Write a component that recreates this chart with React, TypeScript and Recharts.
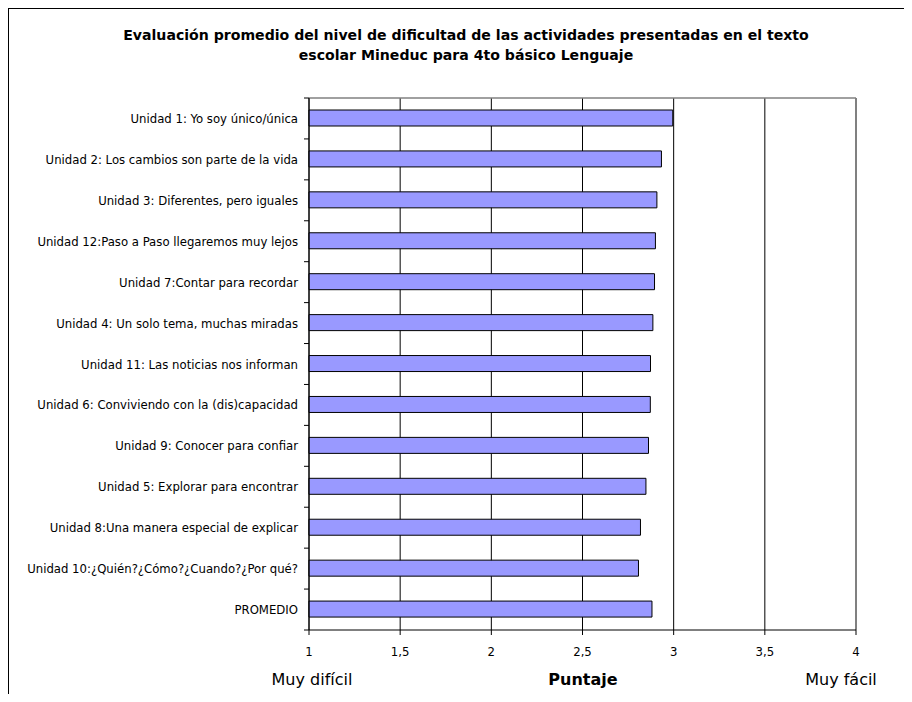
import React from 'react';
import { BarChart, Bar, XAxis, YAxis, CartesianGrid, ReferenceLine } from 'recharts';

const titleLines = [
  'Evaluación promedio del nivel de dificultad de las actividades presentadas en el texto',
  'escolar Mineduc para 4to básico Lenguaje',
];

const categories = [
  'Unidad 1: Yo soy único/única',
  'Unidad 2: Los cambios son parte de la vida',
  'Unidad 3: Diferentes, pero iguales',
  'Unidad 12:Paso a Paso llegaremos muy lejos',
  'Unidad 7:Contar para recordar',
  'Unidad 4: Un solo tema, muchas miradas',
  'Unidad 11: Las noticias nos informan',
  'Unidad 6: Conviviendo con la (dis)capacidad',
  'Unidad 9: Conocer para confiar',
  'Unidad 5: Explorar para encontrar',
  'Unidad 8:Una manera especial de explicar',
  'Unidad 10:¿Quién?¿Cómo?¿Cuando?¿Por qué?',
  'PROMEDIO',
];

const scores = [2.995, 2.933, 2.908, 2.9, 2.895, 2.886, 2.873, 2.872, 2.862, 2.848, 2.818, 2.807, 2.881];

const xTicks = [1, 1.5, 2, 2.5, 3, 3.5, 4];
const xDomain = [1, 4];

const xLabelLeft = 'Muy difícil';
const xLabelCenter = 'Puntaje';
const xLabelRight = 'Muy fácil';

const data = categories.map((name, i) => ({ name, value: scores[i] }));

const FONT = "'DejaVu Sans Condensed', 'DejaVu Sans', sans-serif";
const FONT_WIDE = "'DejaVu Sans', sans-serif";

const CategoryTick = (props: any) => {
  const { x, y, payload, index } = props;
  const half = payload && payload.offset ? payload.offset : 0;
  const axisX = x + 11;
  return (
    <g>
      <text x={x} y={y} textAnchor="end" dominantBaseline="central" fontSize={13} fontFamily={FONT} fill="#000">
        {payload.value}
      </text>
      {index === 0 && <line x1={axisX - 5} x2={axisX} y1={y - half} y2={y - half} stroke="#000" />}
      <line x1={axisX - 5} x2={axisX} y1={y + half} y2={y + half} stroke="#000" />
    </g>
  );
};

export default function App() {
  return (
    <div
      style={{
        position: 'relative',
        width: 898,
        height: 686,
        boxSizing: 'border-box',
        borderTop: '1px solid #000',
        borderLeft: '1px solid #000',
        borderRight: '1px solid #000',
        fontFamily: FONT,
        color: '#000',
        background: '#fff',
      }}
    >
      <div
        style={{
          position: 'absolute',
          left: 10,
          width: 894,
          top: 16,
          textAlign: 'center',
          fontWeight: 'bold',
          fontFamily: FONT_WIDE,
          fontSize: 14.1,
          lineHeight: '20px',
        }}
      >
        {titleLines.map((t) => (
          <div key={t}>{t}</div>
        ))}
      </div>
      <div style={{ position: 'absolute', left: 0, top: 0 }}>
        <BarChart
          width={896}
          height={685}
          data={data}
          layout="vertical"
          margin={{ top: 89, right: 49, bottom: 34, left: 0 }}
          barCategoryGap={12}
        >
          <CartesianGrid horizontal={false} stroke="#000" />
          <XAxis
            type="number"
            domain={xDomain}
            ticks={xTicks}
            interval={0}
            height={30}
            axisLine={{ stroke: '#000' }}
            tickLine={{ stroke: '#000' }}
            tickSize={5}
            tickMargin={12}
            tick={{ fontSize: 13, fill: '#000', fontFamily: FONT }}
            tickFormatter={(v: number) => String(v).replace('.', ',')}
          />
          <YAxis
            type="category"
            dataKey="name"
            width={300}
            axisLine={{ stroke: '#000' }}
            tickLine={false}
            tickSize={0}
            tickMargin={11}
            interval={0}
            tick={<CategoryTick />}
          />
          <ReferenceLine y={categories[0]} position="start" stroke="#808080" strokeWidth={1.5} />
          <ReferenceLine x={xDomain[1]} stroke="#808080" strokeWidth={1.5} />
          <Bar dataKey="value" fill="#9999FF" stroke="#000" strokeWidth={1} barSize={16} isAnimationActive={false} />
        </BarChart>
      </div>
      <div style={{ position: 'absolute', left: 303, top: 670, transform: 'translate(-50%, -50%)', fontSize: 16, fontFamily: FONT_WIDE, whiteSpace: 'nowrap' }}>
        {xLabelLeft}
      </div>
      <div style={{ position: 'absolute', left: 574, top: 670, transform: 'translate(-50%, -50%)', fontSize: 16, fontFamily: FONT_WIDE, fontWeight: 'bold', whiteSpace: 'nowrap' }}>
        {xLabelCenter}
      </div>
      <div style={{ position: 'absolute', left: 832, top: 670, transform: 'translate(-50%, -50%)', fontSize: 16, fontFamily: FONT_WIDE, whiteSpace: 'nowrap' }}>
        {xLabelRight}
      </div>
    </div>
  );
}
